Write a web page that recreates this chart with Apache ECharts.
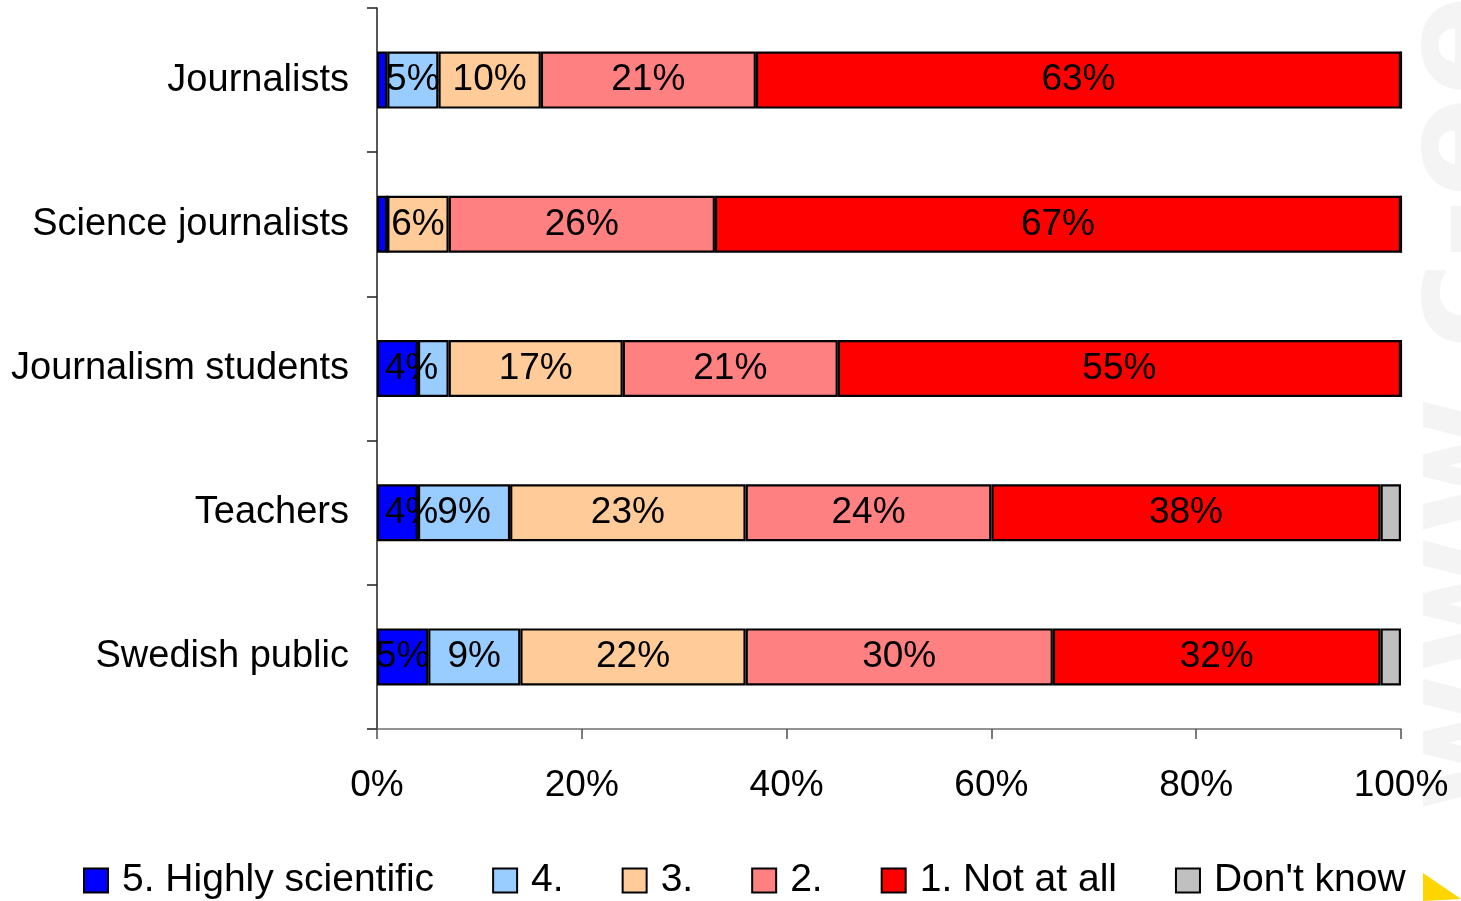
<!DOCTYPE html>
<html>
<head>
<meta charset="utf-8">
<script src="https://cdn.jsdelivr.net/npm/echarts@6/dist/echarts.min.js"></script>
<style>
html,body{margin:0;padding:0;background:#fff;}
#chart{width:1461px;height:901px;}
</style>
</head>
<body>
<div id="chart"></div>
<script>
const categories = ['Journalists', 'Science journalists', 'Journalism students', 'Teachers', 'Swedish public'];
const seriesNames = ['5. Highly scientific', '4.', '3.', '2.', '1. Not at all', "Don't know"];
const highlyScientific = [1, 1, 4, 4, 5];
const level4 = [5, 0, 3, 9, 9];
const level3 = [10, 6, 17, 23, 22];
const level2 = [21, 26, 21, 24, 30];
const notAtAll = [63, 67, 55, 38, 32];
const dontKnow = [0, 0, 0, 2, 2];
const xTicks = [0, 20, 40, 60, 80, 100];
const watermark = 'www.c-ee';

const colors = ['#0000FF', '#99CCFF', '#FFCC99', '#FF8080', '#FF0000', '#C0C0C0'];
const values = [highlyScientific, level4, level3, level2, notAtAll, dontKnow];
const FONT = '"Liberation Sans", Arial, sans-serif';
// label nudges (series index -> data index -> px), as placed in the original
const labelNudge = {0: {2: 14, 3: 14}};

const chart = echarts.init(document.getElementById('chart'), null, {renderer: 'canvas'});

const series = values.map((arr, i) => ({
  name: seriesNames[i],
  type: 'bar',
  stack: 'total',
  barWidth: 57,
  data: arr.map((v, j) => {
    const n = labelNudge[i] && labelNudge[i][j];
    return n ? {value: v, label: {offset: [n, 0]}} : v;
  }),
  itemStyle: {color: colors[i], borderColor: '#000', borderWidth: 2.2},
  label: {
    show: i < 5,
    position: 'inside',
    color: '#000',
    fontFamily: FONT,
    fontSize: 37,
    textBorderWidth: 0,
    formatter: p => (p.value >= 4 ? p.value + '%' : '')
  },
  emphasis: {disabled: true},
  silent: true
}));

chart.setOption({
  backgroundColor: '#fff',
  animation: false,
  grid: {left: 377, right: 60, top: 8, bottom: 172, containLabel: false},
  xAxis: {
    type: 'value',
    min: xTicks[0],
    max: xTicks[xTicks.length - 1],
    interval: xTicks[1] - xTicks[0],
    axisLine: {show: true, lineStyle: {color: '#707070', width: 1.5}},
    axisTick: {show: true, length: 10, lineStyle: {color: '#505050', width: 1.5}},
    splitLine: {show: false},
    axisLabel: {
      formatter: '{value}%',
      color: '#000',
      fontFamily: FONT,
      fontSize: 37,
      margin: 38
    }
  },
  yAxis: {
    type: 'category',
    data: categories,
    inverse: true,
    axisLine: {show: true, lineStyle: {color: '#202020', width: 1.5}},
    axisTick: {show: true, length: 10, lineStyle: {color: '#202020', width: 1.5}},
    axisLabel: {
      color: '#000',
      fontFamily: FONT,
      fontSize: 38,
      margin: 28
    }
  },
  legend: {
    data: seriesNames,
    left: 83,
    top: 861,
    padding: 0,
    itemWidth: 24,
    itemHeight: 24,
    itemGap: 58,
    icon: 'rect',
    itemStyle: {borderColor: '#000', borderWidth: 2},
    textStyle: {color: '#000', fontFamily: FONT, fontSize: 39, padding: [0, 0, 0, 9]},
    selectedMode: false
  },
  graphic: [
    {
      type: 'text',
      x: 1541,
      y: 812,
      rotation: Math.PI / 2,
      z: -10,
      silent: true,
      style: {
        text: watermark,
        fill: '#f4f4f4',
        font: 'bold 150px "DejaVu Sans", sans-serif',
        textAlign: 'left',
        textVerticalAlign: 'bottom'
      }
    },
    {
      type: 'polygon',
      silent: true,
      shape: {points: [[1423, 873], [1423, 901], [1461, 899]]},
      style: {fill: '#FFD500'}
    }
  ],
  series: series
});
</script>
</body>
</html>
